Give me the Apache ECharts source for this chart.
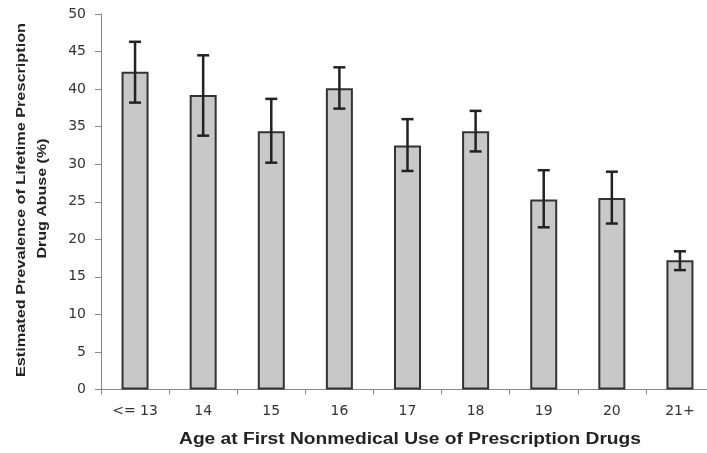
<!DOCTYPE html>
<html>
<head>
<meta charset="utf-8">
<script src="https://cdn.jsdelivr.net/npm/echarts@6/dist/echarts.min.js"></script>
<style>
html,body{margin:0;padding:0;background:#fff;}
#chart{width:707px;height:453px;}
</style>
</head>
<body>
<div id="chart"></div>
<script>
var categories = ['<= 13', '14', '15', '16', '17', '18', '19', '20', '21+'];
var values = [42.3, 39.2, 34.4, 40.1, 32.5, 34.4, 25.3, 25.5, 17.2];
var lower = [38.2, 33.8, 30.2, 37.4, 29.1, 31.7, 21.6, 22.1, 15.9];
var upper = [46.3, 44.5, 38.7, 42.9, 36.0, 37.1, 29.2, 29.0, 18.4];
var yTicks = [0, 5, 10, 15, 20, 25, 30, 35, 40, 45, 50];
var xTitle = 'Age at First Nonmedical Use of Prescription Drugs';
var yTitle1 = 'Estimated Prevalence of Lifetime Prescription';
var yTitle2 = 'Drug Abuse (%)';

var errData = categories.map(function (c, i) { return [i, lower[i], upper[i]]; });

var chart = echarts.init(document.getElementById('chart'));
var tickFont = '"DejaVu Sans", sans-serif';
var titleFont = 'bold 13px "Liberation Sans", Arial, sans-serif';
chart.setOption({
  animation: false,
  backgroundColor: '#fff',
  grid: { left: 101, top: 14, bottom: 63.5, width: 613, containLabel: false, outerBoundsMode: 'none' },
  xAxis: {
    type: 'category',
    data: categories,
    axisLine: { lineStyle: { color: '#888', width: 1 } },
    axisTick: { show: true, length: 5, lineStyle: { color: '#888' } },
    axisLabel: { color: '#333', fontSize: 14, fontFamily: tickFont, margin: 15 }
  },
  yAxis: {
    type: 'value',
    min: yTicks[0],
    max: yTicks[yTicks.length - 1],
    interval: 5,
    splitLine: { show: false },
    axisLine: { show: true, lineStyle: { color: '#888', width: 1 } },
    axisTick: { show: true, length: 6, lineStyle: { color: '#888' } },
    axisLabel: { color: '#333', fontSize: 14, fontFamily: tickFont, margin: 15 }
  },
  graphic: [
    {
      type: 'text', x: 21, y: 200, rotation: Math.PI / 2, scaleX: 1.25,
      style: { text: yTitle1, fill: '#222', font: titleFont, align: 'center', verticalAlign: 'middle' }
    },
    {
      type: 'text', x: 42, y: 198.5, rotation: Math.PI / 2, scaleX: 1.23,
      style: { text: yTitle2, fill: '#222', font: titleFont, align: 'center', verticalAlign: 'middle' }
    },
    {
      type: 'text', x: 410, y: 440, scaleX: 1.2,
      style: { text: xTitle, fill: '#222', font: 'bold 16px "Liberation Sans", Arial, sans-serif', align: 'center', verticalAlign: 'middle' }
    }
  ],
  series: [
    {
      type: 'bar',
      data: values,
      barWidth: 27,
      itemStyle: { color: '#c8c8c8', borderColor: '#333', borderWidth: 2 }
    },
    {
      type: 'custom',
      data: errData,
      z: 10,
      renderItem: function (params, api) {
        var x = api.value(0);
        var lo = api.coord([x, api.value(1)]);
        var hi = api.coord([x, api.value(2)]);
        var hw = 6;
        var st = { stroke: '#222', lineWidth: 2.5 };
        return {
          type: 'group',
          children: [
            { type: 'line', shape: { x1: lo[0], y1: lo[1], x2: hi[0], y2: hi[1] }, style: st },
            { type: 'line', shape: { x1: hi[0] - hw, y1: hi[1], x2: hi[0] + hw, y2: hi[1] }, style: st },
            { type: 'line', shape: { x1: lo[0] - hw, y1: lo[1], x2: lo[0] + hw, y2: lo[1] }, style: st }
          ]
        };
      }
    }
  ]
});
</script>
</body>
</html>
